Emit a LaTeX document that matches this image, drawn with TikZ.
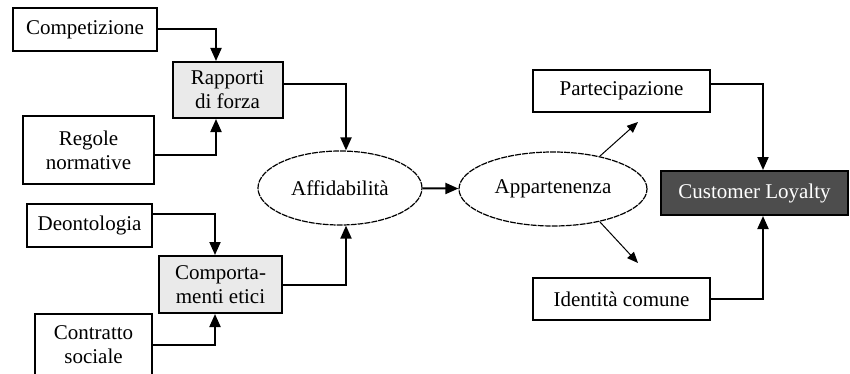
\documentclass[tikz,border=0pt]{standalone}
\usepackage{fontspec}
\setmainfont{Liberation Serif}
\usetikzlibrary{arrows.meta,shapes.geometric}

\definecolor{lightbox}{RGB}{234,234,234}
\definecolor{darkbox}{RGB}{77,77,77}

\begin{document}
\begin{tikzpicture}[
  x=0.5pt, y=-0.5pt,
  font=\fontsize{10.5}{12}\selectfont,
  box/.style={draw=black, line width=1pt, fill=white, align=center, inner sep=1pt},
  oval/.style={ellipse, draw=black, line width=0.6pt, dash pattern=on 3pt off 0.5pt,
    inner sep=0pt},
  flow/.style={-{Triangle[length=6.5pt,width=5.5pt]}, line width=1pt, draw=black},
  thin flow/.style={-{Triangle[length=5.5pt,width=4.5pt]}, line width=0.5pt, draw=black}
]
  \useasboundingbox (0,0) rectangle (850,374);

  % left side
  \node[box, minimum width=72pt, minimum height=21.5pt] (competizione) at (85,29.5) {Competizione};
  \node[box, fill=lightbox, minimum width=55pt, minimum height=28pt] (rapporti) at (227.5,90)
    {Rapporti\\di forza};
  \node[box, minimum width=65.5pt, minimum height=34pt] (regole) at (88.5,150)
    {Regole\\normative};
  \node[box, minimum width=62.5pt, minimum height=21.5pt] (deontologia) at (89.5,225.5) {Deontologia};
  \node[box, fill=lightbox, minimum width=61.5pt, minimum height=28.5pt] (comportamenti) at (220.5,284.5)
    {Comporta-\\menti etici};
  \node[box, minimum width=58.5pt, minimum height=31pt] (contratto) at (93.5,345)
    {Contratto\\sociale};

  % center
  \node[oval, minimum width=82pt, minimum height=37pt] (affidabilita) at (340,188) {Affidabilità};
  \node[oval, minimum width=94pt, minimum height=37pt] (appartenenza) at (553,189) {Appartenenza};

  % right side
  \node[box, minimum width=88.5pt, minimum height=21pt] (partecipazione) at (621.5,91) {Partecipazione};
  \node[box, minimum width=88.5pt, minimum height=21pt] (identita) at (621.5,299) {Identità comune};
  \node[box, fill=darkbox, text=white, minimum width=93.5pt, minimum height=22pt] (loyalty) at (754.5,193)
    {Customer Loyalty};

  \coordinate (partIn) at (638,122);
  \coordinate (identIn) at (638,263);

  \draw[flow] (competizione.east) -| ([xshift=-5.75pt]rapporti.north);
  \draw[flow] ([yshift=-2.5pt]regole.east) -| ([xshift=-5.75pt]rapporti.south);
  \draw[flow] ([yshift=5.75pt]deontologia.east) -| ([xshift=-2.75pt]comportamenti.north);
  \draw[flow] (contratto.east) -| ([xshift=-2.75pt]comportamenti.south);
  \draw[flow] ([yshift=3pt]rapporti.east) -| ([xshift=3pt]affidabilita.north);
  \draw[flow] (comportamenti.east) -| ([xshift=3pt]affidabilita.south);
  \draw[flow] (affidabilita) -- (appartenenza);
  \draw[thin flow] (appartenenza.35) -- (partIn);
  \draw[thin flow] (appartenenza.-35) -- (identIn);
  \draw[flow] ([yshift=3.5pt]partecipazione.east) -| ([xshift=4.25pt]loyalty.north);
  \draw[flow] (identita.east) -| ([xshift=4.25pt]loyalty.south);
\end{tikzpicture}
\end{document}
